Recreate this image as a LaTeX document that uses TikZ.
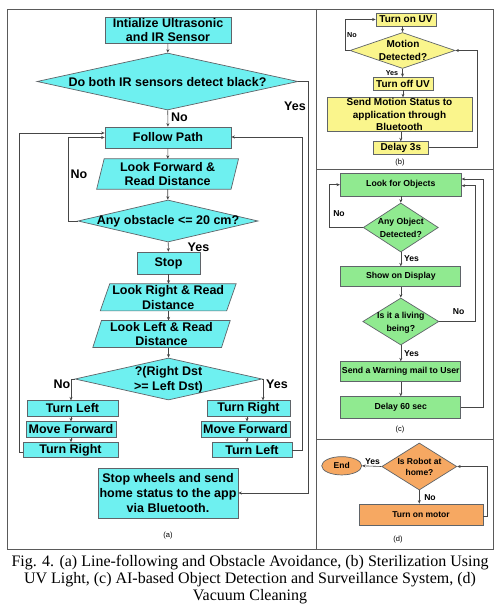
\documentclass[tikz,border=0pt]{standalone}
\usepackage{fontspec}
\setmainfont{Liberation Serif}
\newfontfamily\arialf{Liberation Sans}
\usetikzlibrary{shapes.geometric,arrows.meta,backgrounds,calc}

\definecolor{cyanF}{RGB}{110,240,240}
\definecolor{yelF}{RGB}{250,245,140}
\definecolor{grnF}{RGB}{144,234,144}
\definecolor{orgF}{RGB}{246,168,98}
\definecolor{edgeC}{RGB}{95,100,105}
\definecolor{lineC}{RGB}{70,70,70}
\definecolor{frameC}{RGB}{90,90,90}

\newcommand\drawpara[2]{\draw[draw=edgeC, line width=0.7pt, fill=cyanF] ($(#1.north west)+(#2,0)$) -- ($(#1.north east)+(#2,0)$) -- ($(#1.south east)-(#2,0)$) -- ($(#1.south west)-(#2,0)$) -- cycle;}

\tikzset{
  box/.style={draw=edgeC, line width=0.7pt, rectangle, inner sep=0pt, align=center},
  fa/.style={font=\arialf\bfseries\fontsize{12.5}{14.6}\selectfont},
  fb/.style={font=\arialf\bfseries\fontsize{10}{12.3}\selectfont},
  fc/.style={font=\arialf\bfseries\fontsize{8.7}{12.6}\selectfont},
  fd/.style={font=\arialf\bfseries\fontsize{8.5}{10.5}\selectfont},
  abox/.style={box, fa, fill=cyanF},
  bbox/.style={box, fb, fill=yelF},
  cbox/.style={box, fc, fill=grnF},
  dbox/.style={box, fd, fill=orgF},
  dia/.style={diamond, draw=edgeC, line width=0.7pt, inner sep=0pt},
  txt/.style={inner sep=0pt, align=center},
  ptxt/.style={inner sep=0pt, align=center, fa},
  arr/.style={draw=lineC, line width=0.6pt, -{Stealth[length=3.5pt,width=3pt]}},
  labA/.style={inner sep=0pt, font=\arialf\bfseries\fontsize{12.5}{14}\selectfont},
  labB/.style={inner sep=0pt, font=\arialf\bfseries\fontsize{7.2}{8}\selectfont},
  labC/.style={inner sep=0pt, font=\arialf\bfseries\fontsize{8.6}{10}\selectfont},
  subcap/.style={inner sep=0pt, font=\arialf\fontsize{7.5}{8}\selectfont},
  figcap/.style={inner sep=0pt, anchor=base, font=\fontsize{16}{16.7}\selectfont},
}

\begin{document}
\begin{tikzpicture}[x=1pt,y=-1pt]
\useasboundingbox (0,0) rectangle (501,612);
\begin{scope}[on background layer]
\fill[white] (0,0) rectangle (501,612);
\end{scope}

% frame
\draw[frameC, line width=0.8pt] (7,9) rectangle (493,549);
\draw[frameC, line width=0.8pt] (316.5,9) -- (316.5,549);
\draw[frameC, line width=0.8pt] (316.5,169) -- (493,169);
\draw[frameC, line width=0.8pt] (316.5,439) -- (493,439);

% ---------------- panel (a)
\node[abox, minimum width=126pt, minimum height=26pt] (init) at (168,30) {Intialize Ultrasonic\\and IR Sensor};
\node[dia, fill=cyanF, minimum width=261pt, minimum height=57pt] (d1) at (167.5,81.5) {};
\node[txt, fa] (d1t) at (167.5,81.7) {Do both IR sensors detect black?};
\node[abox, minimum width=126pt, minimum height=21pt] (follow) at (168,137.5) {Follow Path};
\node[ptxt, minimum width=134pt, minimum height=30pt] (lookfwd) at (167.6,174) {Look Forward \&\\Read Distance};
\node[dia, fill=cyanF, minimum width=180pt, minimum height=42pt] (d2) at (168,221) {};
\node[txt, fa] (d2t) at (168,221.5) {Any obstacle <= 20 cm?};
\node[abox, minimum width=63pt, minimum height=22pt] (stop) at (168.5,263) {Stop};
\node[ptxt, minimum width=126pt, minimum height=26.7pt] (lookr) at (168.2,297.3) {Look Right \& Read\\Distance};
\node[ptxt, minimum width=128.3pt, minimum height=26.6pt] (lookl) at (161.5,334) {Look Left \& Read\\Distance};
\node[dia, fill=cyanF, minimum width=187pt, minimum height=42pt] (d3) at (168.5,379) {};
\node[txt, fa] (d3t) at (168.5,379.5) {?(Right Dst\\>= Left Dst)};
\node[abox, minimum width=91pt, minimum height=15.5pt] (tl1) at (72.5,408.5) {Turn Left};
\node[abox, minimum width=90pt, minimum height=15.5pt] (mf1) at (71,429.5) {Move Forward};
\node[abox, minimum width=95pt, minimum height=14.7pt] (tr1) at (70.5,450) {Turn Right};
\node[abox, minimum width=83pt, minimum height=15.5pt] (tr2) at (248.5,408.5) {Turn Right};
\node[abox, minimum width=89pt, minimum height=15.5pt] (mf2) at (245.5,429.5) {Move Forward};
\node[abox, minimum width=80pt, minimum height=14.7pt] (tl2) at (252,450) {Turn Left};
\node[abox, minimum width=140pt, minimum height=50pt, font=\arialf\bfseries\fontsize{12.5}{15}\selectfont] (sw) at (168,493) {Stop wheels and send\\home status to the app\\via Bluetooth.};
\node[subcap] (capa) at (168,535.5) {(a)};

\begin{scope}[on background layer]
\drawpara{lookfwd}{3.75}
\drawpara{lookr}{4.75}
\drawpara{lookl}{4.35}
\end{scope}

\coordinate (ya) at (308,81.5);
\coordinate (na) at (68,221);
\coordinate (la) at (19,452);
\coordinate (ra) at (302,450);
\coordinate (nb) at (71,379);
\coordinate (yb) at (263,379);
\coordinate (xr) at (247,429.5);

\draw[arr] (init) -- (d1);
\draw[arr] (d1) -- (follow);
\draw[arr] (d1.east) -- (ya) |- (sw.east);
\draw[arr] (follow) -- (lookfwd);
\draw[arr] (lookfwd) -- (d2);
\draw[arr] (d2.west) -- (na) |- (follow.west);
\draw[arr] (tr1.west |- la) -- (la) |- ($(follow.west)+(0,-4.5)$);
\draw[arr] (tl2.east) -- (ra) |- ($(follow.east)+(0,-0.5)$);
\draw[arr] (d2) -- (stop);
\draw[arr] (stop) -- (lookr.north -| stop);
\draw[arr] (lookr.south -| stop) -- (lookl.north -| stop);
\draw[arr] (lookl.south -| stop) -- (d3.north);
\draw[arr] (d3.west) -- (nb) -- (nb |- tl1.north);
\draw[arr] (d3.east) -- (yb) -- (yb |- tr2.north);
\draw[arr] (tl1.south -| nb) -- (mf1.north -| nb);
\draw[arr] (mf1.south -| nb) -- (tr1.north -| nb);
\draw[arr] (tr2.south -| xr) -- (mf2.north -| xr);
\draw[arr] (mf2.south -| xr) -- (tl2.north -| xr);

\node[labA, anchor=west] (no1) at (171,117) {No};
\node[labA] (yes1) at (295,106) {Yes};
\node[labA] (no2) at (79,174) {No};
\node[labA] (yes2) at (198.5,247) {Yes};
\node[labA] (no3) at (62,384) {No};
\node[labA] (yes3) at (277,384) {Yes};

% ---------------- panel (b)
\node[bbox, minimum width=60pt, minimum height=13pt] (uvon) at (406,19.5) {Turn on UV};
\node[dia, fill=yelF, minimum width=105pt, minimum height=36pt] (dm) at (402.5,50.5) {};
\node[txt, font=\arialf\bfseries\fontsize{10}{13.4}\selectfont] (dmt) at (403,50.5) {Motion\\Detected?};
\node[bbox, minimum width=60pt, minimum height=12.7pt] (uvoff) at (403,83.7) {Turn off UV};
\node[bbox, minimum width=145pt, minimum height=34pt] (send) at (399.5,114.7) {Send Motion Status to\\application through\\Bluetooth};
\node[bbox, minimum width=55pt, minimum height=12.3pt] (d3s) at (400.8,147.8) {Delay 3s};
\node[subcap] (capb) at (400,163) {(b)};

\coordinate (nbb) at (345,50.5);
\coordinate (rbb) at (477,147.8);
\draw[arr] (uvon.south -| dm) -- (dm.north);
\draw[arr] (dm.west) -- (nbb) |- (uvon.west);
\draw[arr] (dm.south) -- (dm.south |- uvoff.north);
\draw[arr] (uvoff.south) -- (uvoff.south |- send.north);
\draw[arr] (send.south -| d3s) -- (d3s.north);
\draw[arr] (d3s.east) -- (rbb) |- (dm.east);
\node[labB] (nob) at (352,35) {No};
\node[labB] (yesb) at (392,73) {Yes};

% ---------------- panel (c)
\node[cbox, minimum width=121pt, minimum height=22.5pt] (look) at (400.8,184.7) {Look for Objects};
\node[dia, fill=grnF, minimum width=75pt, minimum height=49pt] (do1) at (400.8,227.5) {};
\node[txt, fc] (do1t) at (400.8,228) {Any Object\\Detected?};
\node[cbox, minimum width=120pt, minimum height=20pt] (show) at (400.8,276.7) {Show on Display};
\node[dia, fill=grnF, minimum width=76pt, minimum height=47pt] (dl) at (400.8,321.5) {};
\node[txt, fc] (dlt) at (400.8,322.5) {Is it a living\\being?};
\node[cbox, minimum width=120pt, minimum height=20pt] (warn) at (400.8,371.7) {Send a Warning mail to User};
\node[cbox, minimum width=120pt, minimum height=21.7pt] (d60) at (400.8,407.5) {Delay 60 sec};
\node[subcap] (capc) at (400,429.5) {(c)};

\coordinate (nc) at (329,227.5);
\coordinate (rc1) at (475,321.5);
\coordinate (rc2) at (483,407.5);
\draw[arr] (look) -- (do1);
\draw[arr] (do1.west) -- (nc) |- (look.west);
\draw[arr] (do1) -- (show);
\draw[arr] (show) -- (dl);
\draw[arr] (dl.east) -- (rc1) |- ($(look.east)+(0,1)$);
\draw[arr] (dl) -- (warn);
\draw[arr] (warn) -- (d60);
\draw[arr] (d60.east) -- (rc2) |- ($(look.east)+(0,-5.7)$);
\node[labC] (noc1) at (339,214) {No};
\node[labC] (yesc1) at (411.5,258.3) {Yes};
\node[labC] (noc2) at (458.7,311.7) {No};
\node[labC] (yesc2) at (411.5,353.3) {Yes};

% ---------------- panel (d)
\node[ellipse, draw=edgeC, line width=0.7pt, fill=orgF, inner sep=0pt, minimum width=40pt, minimum height=18.3pt, fd] (endn) at (341.7,465.8) {End};
\node[dia, fill=orgF, minimum width=75pt, minimum height=47pt] (dr) at (419.3,466.5) {};
\node[txt, fd] (drt) at (419.5,467) {Is Robot at\\home?};
\node[dbox, minimum width=124pt, minimum height=21pt] (motor) at (421,514.5) {Turn on motor};
\node[subcap] (capd) at (398,540) {(d)};

\coordinate (rd) at (487,516);
\draw[arr] (dr.west) -- (endn.east);
\draw[arr] (dr.south) -- (dr.south |- motor.north);
\draw[arr] (motor.east |- rd) -- (rd) |- (dr.east);
\node[labC] (yesd) at (372.5,461.7) {Yes};
\node[labC] (nod) at (430,497.3) {No};

% ---------------- caption
\node[figcap] (cap1) at (250,566.5) {Fig. 4. (a) Line-following and Obstacle Avoidance, (b) Sterilization Using};
\node[figcap] (cap2) at (250,583.2) {UV Light, (c) AI-based Object Detection and Surveillance System, (d)};
\node[figcap] (cap3) at (250,600) {Vacuum Cleaning};
\end{tikzpicture}
\end{document}
